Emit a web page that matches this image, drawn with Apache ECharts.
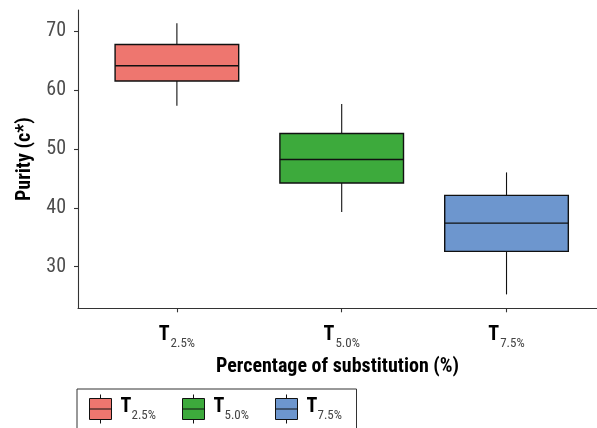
<!DOCTYPE html>
<html><head><meta charset="utf-8">
<script src="https://cdn.jsdelivr.net/npm/echarts@6/dist/echarts.min.js"></script>
<style>html,body{margin:0;padding:0;background:#fff}#c{width:597px;height:428px}</style>
</head><body><div id="c"></div>
<script>
const categories = ['2.5%', '5.0%', '7.5%'];
const seriesNames = ['T2.5%', 'T5.0%', 'T7.5%'];
const positions = [1, 2, 3];
const minValues = [57.3, 39.3, 25.3];
const q1Values = [61.5, 44.2, 32.6];
const medianValues = [64.1, 48.2, 37.4];
const q3Values = [67.7, 52.6, 42.1];
const maxValues = [71.3, 57.6, 46.0];
const yTicks = [30, 40, 50, 60, 70];
const colors = ['#EE766F', '#3DAA3C', '#6D96CE'];

const FONT = '"Liberation Sans Narrow","Arial Narrow","Roboto Condensed","DejaVu Sans Condensed",sans-serif';

function renderBox(params, api) {
  const x = api.value(0);
  const pMin = api.coord([x, api.value(1)]);
  const pQ1 = api.coord([x, api.value(2)]);
  const pMed = api.coord([x, api.value(3)]);
  const pQ3 = api.coord([x, api.value(4)]);
  const pMax = api.coord([x, api.value(5)]);
  const w = api.size([0.75, 0])[0];
  const cx = pMed[0];
  const fill = api.visual('color');
  return {
    type: 'group',
    children: [
      {type: 'line', shape: {x1: cx, y1: pMax[1], x2: cx, y2: pQ3[1]}, style: {stroke: '#111', lineWidth: 1.1}},
      {type: 'line', shape: {x1: cx, y1: pQ1[1], x2: cx, y2: pMin[1]}, style: {stroke: '#111', lineWidth: 1.1}},
      {type: 'rect', shape: {x: cx - w / 2, y: pQ3[1], width: w, height: pQ1[1] - pQ3[1]}, style: {fill: fill, stroke: '#111', lineWidth: 1.4}},
      {type: 'line', shape: {x1: cx - w / 2, y1: pMed[1], x2: cx + w / 2, y2: pMed[1]}, style: {stroke: '#111', lineWidth: 1.4}}
    ]
  };
}

const richStyles = {
  b: {fontFamily: FONT, fontSize: 20, fontWeight: 'bold', color: '#000', lineHeight: 24, verticalAlign: 'top'},
  s: {fontFamily: FONT, fontSize: 13, color: '#444', lineHeight: 16, padding: [12, 0, 0, 1], verticalAlign: 'top'}
};
const legendRich = {
  b: {fontFamily: FONT, fontSize: 20, fontWeight: 'bold', color: '#000', lineHeight: 24, verticalAlign: 'top', width: 10, padding: [0, 0, 0, 4]},
  s: {fontFamily: FONT, fontSize: 13, color: '#444', lineHeight: 16, padding: [12, 0, 0, 1], verticalAlign: 'top', width: 29}
};

const series = seriesNames.map((name, i) => ({
  type: 'custom',
  name: name,
  renderItem: renderBox,
  itemStyle: {color: colors[i]},
  encode: {x: 0, y: [1, 2, 3, 4, 5]},
  data: [[positions[i], minValues[i], q1Values[i], medianValues[i], q3Values[i], maxValues[i]]]
}));

const chart = echarts.init(document.getElementById('c'), null, {renderer: 'canvas'});
chart.setOption({
  animation: false,
  backgroundColor: '#fff',
  grid: {left: 78, top: 10, right: 0, bottom: 119.7, containLabel: false},
  xAxis: {
    type: 'value', min: 0.4, max: 3.549,
    name: 'Percentage of substitution (%)', nameLocation: 'middle', nameGap: 49,
    nameTextStyle: {fontFamily: FONT, fontSize: 20, fontWeight: 'bold', color: '#000'},
    axisLine: {show: true, onZero: false, lineStyle: {color: '#333', width: 1.1}},
    axisTick: {show: true, length: 4, customValues: positions, lineStyle: {color: '#333', width: 1.1}},
    axisLabel: {
      customValues: positions, margin: 17,
      formatter: function (v) {
        const i = positions.indexOf(Math.round(v));
        return i < 0 ? '' : '{b|T}{s|' + categories[i] + '}';
      },
      rich: richStyles
    },
    splitLine: {show: false}
  },
  yAxis: {
    type: 'value', min: 22.94, max: 73.56,
    name: 'Purity (c*)', nameLocation: 'middle', nameGap: 43,
    nameTextStyle: {fontFamily: FONT, fontSize: 20, fontWeight: 'bold', color: '#000'},
    axisLine: {show: true, lineStyle: {color: '#333', width: 1.1}},
    axisTick: {show: true, length: 4, customValues: yTicks, lineStyle: {color: '#333', width: 1.1}},
    axisLabel: {customValues: yTicks, margin: 12, fontFamily: FONT, fontSize: 20, color: '#4D4D4D'},
    splitLine: {show: false}
  },
  legend: {
    orient: 'horizontal', left: 77, top: 389,
    padding: [5, 10, 5, 12], itemGap: 21.5, itemWidth: 22, itemHeight: 29,
    borderColor: '#333', borderWidth: 1,
    icon: 'path://M0,4L22,4L22,25L0,25Z M0,14.5L22,14.5 M11,0L11,4 M11,25L11,29',
    itemStyle: {borderColor: '#111', borderWidth: 1},
    data: seriesNames,
    formatter: function (name) {
      const i = seriesNames.indexOf(name);
      return '{b|T}{s|' + categories[i] + '}';
    },
    textStyle: {fontFamily: FONT, rich: legendRich}
  },
  series: series
});
</script>
</body></html>
